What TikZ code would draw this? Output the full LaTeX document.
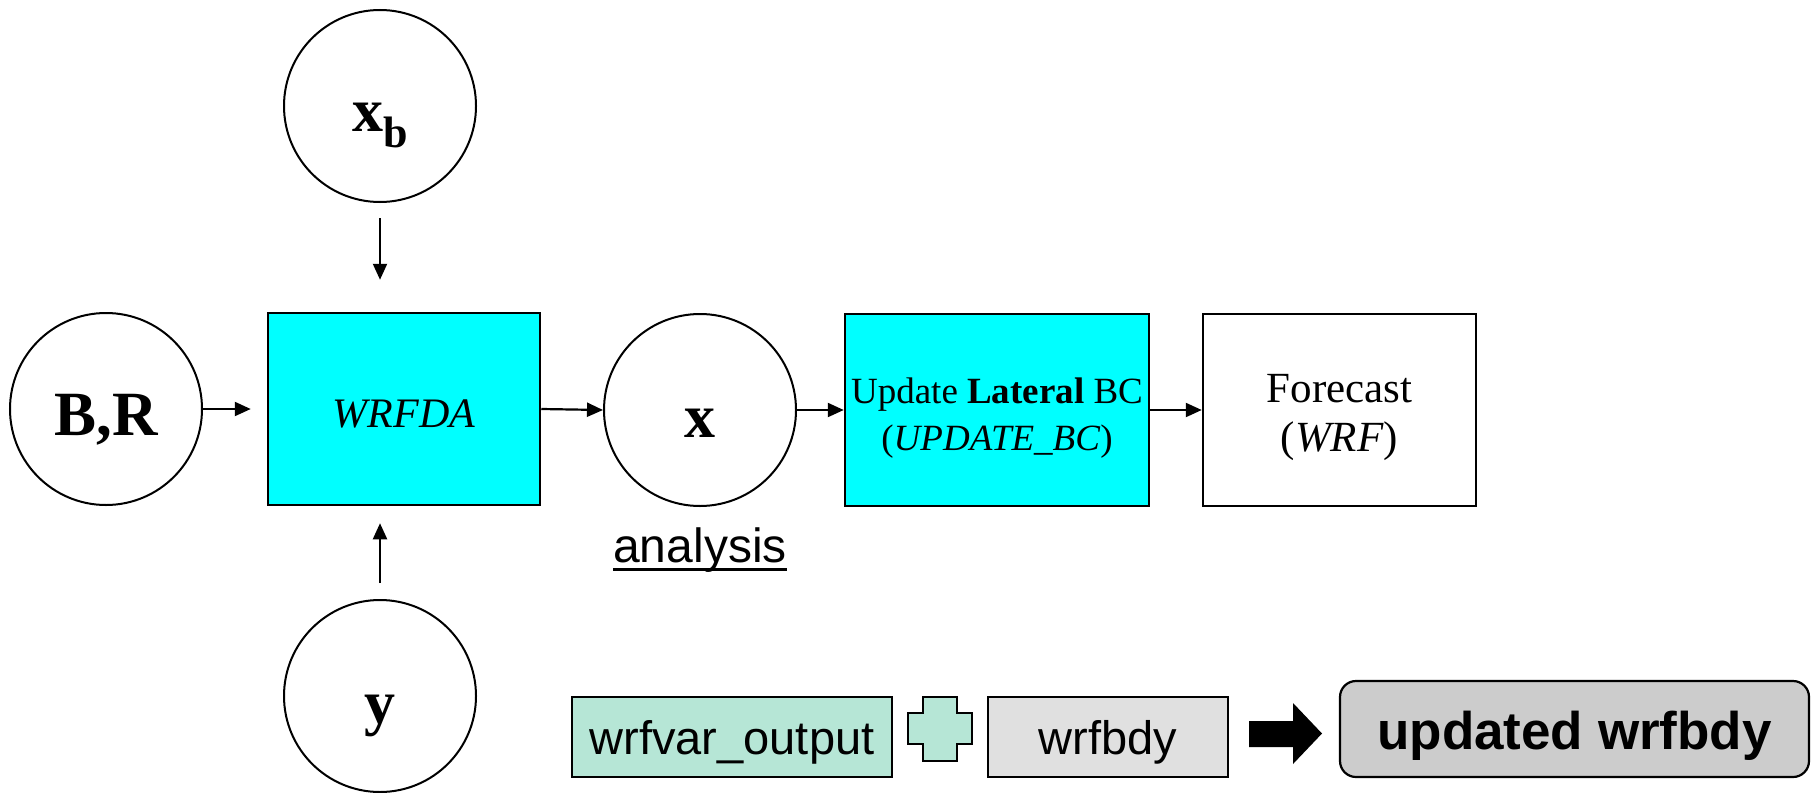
\documentclass[tikz,border=0pt]{standalone}
\usepackage{fontspec}
\setmainfont{Liberation Serif}
\setsansfont{Liberation Sans}
\usetikzlibrary{arrows.meta}
\definecolor{boxcyan}{RGB}{0,255,255}
\definecolor{mint}{RGB}{182,230,214}
\definecolor{palegray}{RGB}{224,224,224}
\definecolor{midgray}{RGB}{204,204,204}
\newcommand{\lowered}[2]{\raisebox{-#1}[0pt][0pt]{#2}}
\tikzset{
  ball/.style={circle, draw, line width=2pt, minimum size=192pt, inner sep=0pt},
  procbox/.style={rectangle, draw, line width=2.5pt, inner sep=0pt, minimum height=192pt},
  flow/.style={line width=2.2pt, -{Triangle[length=16pt,width=14pt]}},
  filebox/.style={rectangle, draw, line width=2.2pt, inner sep=0pt, minimum height=80pt, font=\sffamily\fontsize{47}{56}\selectfont},
}
\begin{document}
\begin{tikzpicture}[x=1pt,y=-1pt]
\useasboundingbox (0,0) rectangle (1811,792);
% circles
\node[ball, font=\bfseries\fontsize{63}{72}\selectfont] (br) at (106,409) {\lowered{26pt}{B,R}};
\node[ball] (xb) at (380,106) {\lowered{25pt}{\fontsize{62}{70}\selectfont\textbf{x}\raisebox{-16pt}{\fontsize{44}{50}\selectfont\textbf{b}}}};
\node[ball, font=\bfseries\fontsize{62}{70}\selectfont] (xc) at (700,410) {\lowered{27pt}{x}};
\node[ball, font=\bfseries\fontsize{62}{70}\selectfont] (yc) at (380,696) {\lowered{27pt}{y}};
% process boxes
\node[procbox, fill=boxcyan, minimum width=272pt, font=\itshape\fontsize{42}{50}\selectfont] (wrfda) at (404,409) {\lowered{18pt}{WRFDA}};
\node[procbox, fill=boxcyan, minimum width=304pt, font=\fontsize{37}{47}\selectfont] (upd) at (997,410)
  {\lowered{40pt}{\begin{tabular}[b]{@{}c@{}}Update \textbf{Lateral} BC\\(\textit{UPDATE\_BC})\end{tabular}}};
\node[procbox, fill=white, minimum width=273pt, font=\fontsize{43}{49}\selectfont] (fc) at (1339.5,410)
  {\lowered{41pt}{\begin{tabular}[b]{@{}c@{}}Forecast\\(\textit{WRF})\end{tabular}}};
% analysis label
\node[font=\sffamily\fontsize{48}{56}\selectfont, inner sep=0pt, anchor=base] (ana) at (700,562) {analysis};
\draw[line width=3pt] ([yshift=-7pt]ana.base west) -- ([yshift=-7pt]ana.base east);
% connectors
\draw[flow, shorten >=16pt] (br.east) -- (br.east -| wrfda.west);
\draw[flow, shorten <=15pt, shorten >=32pt] (xb.south) -- (xb.south |- wrfda.north);
\draw[flow, shorten <=16pt, shorten >=17pt] (yc.north) -- (yc.north |- wrfda.south);
\draw[flow] (wrfda.east) -- (xc.west);
\draw[flow] (xc.east) -- (upd.west);
\draw[flow] (upd.east) -- (fc.west);
% bottom row
\node[filebox, fill=mint, minimum width=320pt] (wout) at (732,737) {\lowered{17pt}{wrfvar\_output}};
\draw[fill=mint, line width=2.2pt] (923,697) -- (957,697) -- (957,713) -- (972,713) -- (972,744) -- (957,744) -- (957,761) -- (923,761) -- (923,744) -- (908,744) -- (908,713) -- (923,713) -- cycle;
\node[filebox, fill=palegray, minimum width=240pt] (wbdy) at (1108,737) {\lowered{17pt}{wrfbdy}};
\fill (1249,721) -- (1293,721) -- (1293,703) -- (1322,733.5) -- (1293,764) -- (1293,747) -- (1249,747) -- cycle;
\node[filebox, fill=midgray, rounded corners=16pt, minimum width=469pt, minimum height=96pt, font=\sffamily\bfseries\fontsize{53}{60}\selectfont] (wupd) at (1574.5,729) {\lowered{20pt}{updated wrfbdy}};
\end{tikzpicture}
\end{document}
